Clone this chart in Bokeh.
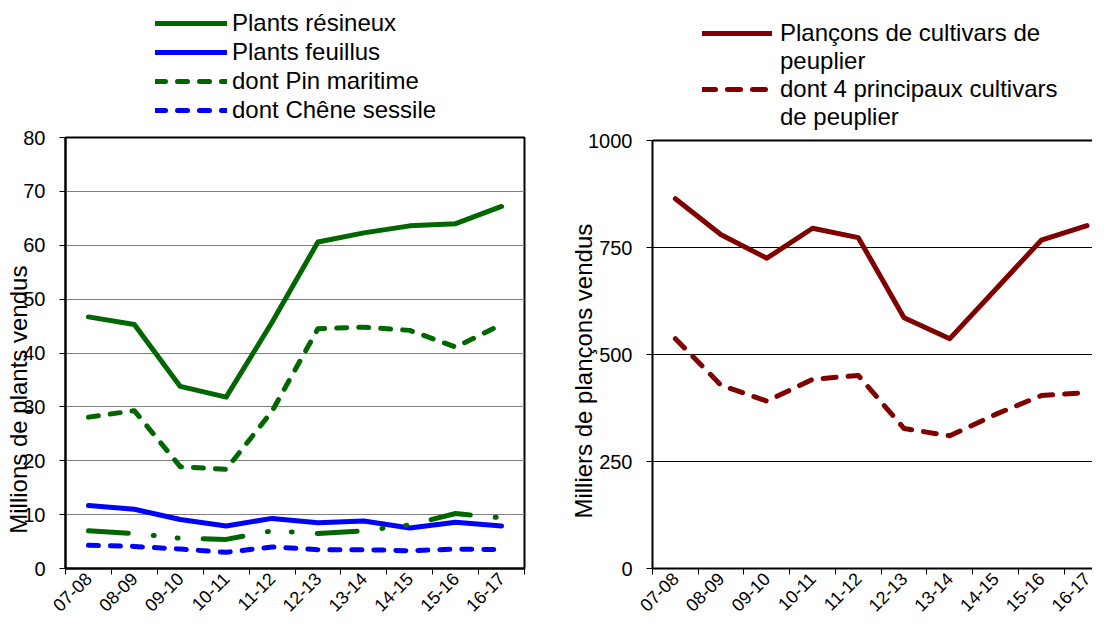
from math import pi
from bokeh.plotting import figure
from bokeh.layouts import row, column
from bokeh.models import FixedTicker, Legend, LegendItem, Range1d, LinearAxis
from bokeh.embed import file_html
from bokeh.resources import INLINE

campagnes = ["07-08", "08-09", "09-10", "10-11", "11-12", "12-13", "13-14", "14-15", "15-16", "16-17"]
plants_resineux = [46.7, 45.3, 33.8, 31.8, 45.7, 60.6, 62.3, 63.6, 64.0, 67.2]
plants_feuillus = [11.7, 11.0, 9.1, 7.9, 9.3, 8.5, 8.8, 7.5, 8.6, 7.9]
pin_maritime = [28.1, 29.3, 18.9, 18.4, 29.2, 44.5, 44.8, 44.2, 41.1, 45.3]
chene_sessile = [4.3, 4.1, 3.6, 3.0, 4.0, 3.5, 3.5, 3.3, 3.6, 3.5]
autre_resineux = [7.0, 6.5, 5.6, 5.4, 7.0, 6.5, 7.0, 8.1, 10.2, 9.4]
plancons_peuplier = [864, 780, 725, 795, 773, 586, 537, 652, 767, 801]
principaux_cultivars = [537, 428, 391, 442, 451, 327, 310, 360, 404, 411]
ticks_gauche = [0, 10, 20, 30, 40, 50, 60, 70, 80]
ticks_droite = [0, 250, 500, 750, 1000]

FONT = "Liberation Sans"
GREEN = "#006600"
BLUE = "#0000FF"
MAROON = "#800000"
NBSP = "\u00a0"

pos = [i + 0.5 for i in range(len(campagnes))]
bornes = list(range(len(campagnes) + 1))

STYLES = {
    "res": dict(line_color=GREEN, line_width=5, line_cap="round", line_join="round"),
    "feu": dict(line_color=BLUE, line_width=5, line_cap="round", line_join="round"),
    "pin": dict(line_color=GREEN, line_width=5, line_dash="10 12", line_cap="round", line_join="round"),
    "che": dict(line_color=BLUE, line_width=5, line_dash="10 12", line_cap="round", line_join="round"),
    "aut": dict(line_color=GREEN, line_width=5, line_dash="40 25 1 23 1 25", line_cap="round", line_join="round"),
    "pla": dict(line_color=MAROON, line_width=5, line_cap="round", line_join="round"),
    "pri": dict(line_color=MAROON, line_width=5, line_dash="13 12", line_cap="round", line_join="round"),
}


def style(p, yticks, grid_color, std_x, std_y, title, title_std):
    xa = p.xaxis[0]
    xa.ticker = FixedTicker(ticks=pos, minor_ticks=bornes)
    xa.major_label_overrides = {v: c for v, c in zip(pos, campagnes)}
    xa.major_tick_line_color = None
    xa.major_tick_out = 0
    xa.major_tick_in = 0
    xa.minor_tick_line_color = "black"
    xa.minor_tick_in = 0
    xa.minor_tick_out = 6
    xa.axis_line_width = 2
    xa.axis_line_color = "black"
    xa.major_label_orientation = pi / 4
    xa.major_label_text_font = FONT
    xa.major_label_text_font_size = "18px"
    xa.major_label_text_color = "black"
    xa.major_label_standoff = std_x
    ya = p.yaxis[0]
    ya.ticker = FixedTicker(ticks=yticks)
    ya.major_tick_out = 6
    ya.major_tick_in = 0
    ya.minor_tick_line_color = None
    ya.axis_line_width = 2
    ya.axis_line_color = "black"
    ya.major_label_text_font = FONT
    ya.major_label_text_font_size = "20px"
    ya.major_label_text_color = "black"
    ya.major_label_standoff = std_y
    ya.axis_label = title
    ya.axis_label_text_font = FONT
    ya.axis_label_text_font_size = "24px"
    ya.axis_label_text_font_style = "normal"
    ya.axis_label_text_color = "black"
    ya.axis_label_standoff = title_std
    p.xgrid.visible = False
    p.ygrid.ticker = FixedTicker(ticks=yticks)
    p.ygrid.grid_line_color = grid_color
    p.ygrid.grid_line_width = 1
    p.background_fill_color = "white"
    p.border_fill_color = "white"


def legend_fig(width, height, entries, loc, glyph_width, standoff, spacing):
    f = figure(width=width, height=height, x_range=Range1d(0, 10), y_range=Range1d(-2, -1),
               output_backend="svg", toolbar_location=None,
               x_axis_location=None, y_axis_location=None,
               min_border_left=0, min_border_right=0, min_border_top=0, min_border_bottom=0)
    f.outline_line_color = None
    f.xgrid.visible = False
    f.ygrid.visible = False
    items = []
    for label, values, key in entries:
        if key is None:
            r = f.line(pos, values, line_alpha=0)
        else:
            r = f.line(pos, values, **STYLES[key])
        items.append(LegendItem(label=label, renderers=[r]))
    leg = Legend(items=items, location=loc, glyph_width=glyph_width, glyph_height=20,
                 label_standoff=standoff, spacing=spacing, padding=0, margin=0,
                 border_line_color=None, background_fill_alpha=0,
                 label_text_font=FONT, label_text_font_size="24px", label_text_color="black")
    f.add_layout(leg)
    return f


TOTAL_H = 620

# ---------- left chart ----------
LEG1_H = 125
leg1 = legend_fig(560, LEG1_H, [("Plants résineux", plants_resineux, "res"),
                                ("Plants feuillus", plants_feuillus, "feu"),
                                ("dont Pin maritime", pin_maritime, "pin"),
                                ("dont Chêne sessile", chene_sessile, "che")],
                  (90, 1), 72, 5, 1)

p1 = figure(width=560, height=TOTAL_H - LEG1_H, x_range=Range1d(0, 10), y_range=Range1d(0, 80),
            output_backend="svg", toolbar_location=None,
            min_border_left=65, min_border_right=36, min_border_top=12, min_border_bottom=51)
p1.outline_line_color = "black"
p1.outline_line_width = 2
style(p1, ticks_gauche, "#808080", 1, 14, "Millions de plants vendus" + NBSP * 14, -12)

p1.line(pos, plants_resineux, **STYLES["res"])
p1.line(pos, plants_feuillus, **STYLES["feu"])
p1.line(pos, pin_maritime, **STYLES["pin"])
p1.line(pos, chene_sessile, **STYLES["che"])
p1.line(pos, autre_resineux, **STYLES["aut"])

# ---------- right chart ----------
LEG2_H = 131
leg2 = legend_fig(532, LEG2_H, [("Plançons de cultivars de", plancons_peuplier, "pla"),
                                ("peuplier", plancons_peuplier, None),
                                ("dont 4 principaux cultivars", principaux_cultivars, "pri"),
                                ("de peuplier", principaux_cultivars, None)],
                  (50, 0), 70, 8, 0)

p2 = figure(width=532, height=TOTAL_H - LEG2_H, x_range=Range1d(0, 9.62), y_range=Range1d(0, 1000),
            output_backend="svg", toolbar_location=None,
            min_border_left=92, min_border_right=0, min_border_top=9, min_border_bottom=44)
p2.outline_line_color = None
style(p2, ticks_droite, "black", 1, 14, "Milliers de plançons vendus" + NBSP * 5, -12)
top_axis = LinearAxis(ticker=FixedTicker(ticks=[]), major_label_text_font_size="0px",
                      major_tick_line_color=None, minor_tick_line_color=None,
                      major_tick_out=0, major_label_standoff=0, axis_label_standoff=0,
                      axis_line_width=2, axis_line_color="black")
p2.add_layout(top_axis, "above")

p2.line(pos, plancons_peuplier, **STYLES["pla"])
p2.line(pos, principaux_cultivars, **STYLES["pri"])

layout = row(column(leg1, p1, spacing=0), column(leg2, p2, spacing=0), spacing=0)
open("out.html", "w").write(file_html(layout, INLINE))
